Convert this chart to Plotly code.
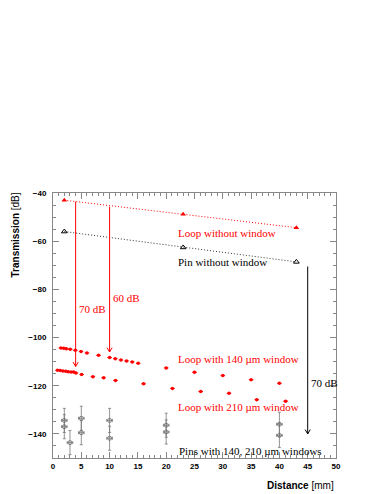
import plotly.graph_objects as go

# ---- data ----
nowin_x = [2, 23, 43]
loop_nowin_y = [-43, -48.8, -54.4]
pin_nowin_y = [-56, -62.6, -68.6]

loop140_x = [1.4, 1.9, 2.35, 3.05, 3.95, 4.95, 6.0, 8.05, 10.0, 11.0, 12.0, 13.0, 14.0, 15.05, 20.0, 25.0, 30.0, 35.0, 40.0]
loop140_y = [-104.3, -104.4, -104.6, -104.9, -105.3, -105.8, -106.4, -107.4, -108.3, -108.75, -109.3, -109.7, -110.1, -110.7, -112.6, -114.4, -115.8, -117.5, -119.0]

loop210_x = [0.8, 1.3, 1.75, 2.25, 2.7, 3.2, 3.65, 4.05, 5.05, 7.05, 8.95, 11.05, 16.0, 21.1, 26.1, 31.1, 36.0, 41.1]
loop210_y = [-113.6, -113.7, -113.9, -114.0, -114.2, -114.3, -114.3, -114.7, -115.3, -116.25, -116.7, -117.8, -119.2, -121.1, -122.4, -123.1, -125.8, -126.4]
loop_xerr = 0.4

pins_x = [2, 2, 3, 5, 5, 10, 10, 20, 20, 40, 40]
pins_y = [-134.4, -137.0, -143.6, -133.5, -139.5, -134.4, -141.8, -136.4, -139.2, -136.0, -140.6]
pins_xerr = 0.5
pins_yerr = 5.0

# arrows: x, y_start, y_end, colour
arrow_x = [4, 10, 45]
arrow_y0 = [-43.6, -45.7, -70.5]
arrow_y1 = [-112, -106, -140]
arrow_col = ["red", "red", "black"]

# labels
labels = [
    ("Loop without window", 21.7, -56.4, "red"),
    ("Pin without window", 21.7, -68.5, "black"),
    ("Loop with 140 µm window", 21.7, -108.75, "red"),
    ("Loop with 210 µm window", 21.7, -128.9, "red"),
    ("Pins with 140, 210 µm windows", 21.9, -147.0, "black"),
    ("70 dB", 4.3, -88.3, "red"),
    ("60 dB", 10.3, -83.5, "red"),
    ("70 dB", 45.3, -118.9, "black"),
]

fig = go.Figure()

fig.add_trace(go.Scatter(x=nowin_x, y=loop_nowin_y, mode="lines+markers",
                         line=dict(color="red", width=1, dash="1px,2px"),
                         marker=dict(symbol="triangle-up", size=5, color="red")))
fig.add_trace(go.Scatter(x=nowin_x, y=pin_nowin_y, mode="lines+markers",
                         line=dict(color="#333", width=1, dash="1px,2px"),
                         marker=dict(symbol="triangle-up-open", size=5, color="black",
                                     line=dict(width=1))))

for xs, ys in [(loop140_x, loop140_y), (loop210_x, loop210_y)]:
    fig.add_trace(go.Scatter(x=xs, y=ys, mode="markers",
                             marker=dict(symbol="circle", size=3.5, color="red"),
                             error_x=dict(type="constant", value=loop_xerr, color="red",
                                          thickness=1, width=0)))

fig.add_trace(go.Scatter(x=pins_x, y=pins_y, mode="markers",
                         marker=dict(symbol="circle-open", size=4, color="#666",
                                     line=dict(width=0.8)),
                         error_x=dict(type="constant", value=pins_xerr, color="#777",
                                      thickness=0.8, width=1.5),
                         error_y=dict(type="constant", value=pins_yerr, color="#777",
                                      thickness=0.8, width=1.5)))

hw, hh = 0.45, 1.8
for xa, y0, y1, c in zip(arrow_x, arrow_y0, arrow_y1, arrow_col):
    fig.add_trace(go.Scatter(
        x=[xa, xa, None, xa - hw, xa, xa + hw],
        y=[y0, y1, None, y1 + hh, y1, y1 + hh],
        mode="lines", line=dict(color=c, width=1)))

for txt, lx, ly, c in labels:
    fig.add_annotation(x=lx, y=ly, text=txt, showarrow=False, xanchor="left",
                       yanchor="middle", xref="x", yref="y",
                       font=dict(family="Liberation Serif", size=11, color=c))

fig.add_annotation(x=-0.134, y=0.84, xref="paper", yref="paper", showarrow=False,
                   text="<b>Transmission</b> [dB]", textangle=-90,
                   xanchor="center", yanchor="middle",
                   font=dict(family="Liberation Sans", size=10, color="black"))
fig.add_annotation(x=1.0, y=-0.102, xref="paper", yref="paper", showarrow=False,
                   text="<b>Distance</b> [mm]", xanchor="right", yanchor="middle",
                   font=dict(family="Liberation Sans", size=10, color="black"))

axis_common = dict(showline=True, linecolor="#888", linewidth=1, mirror="ticks",
                   ticks="inside", tickcolor="#888", ticklen=6, showgrid=False,
                   zeroline=False,
                   tickfont=dict(family="Liberation Sans", size=8, color="black",
                                 weight="bold"))

fig.update_xaxes(range=[0, 50], dtick=5, tick0=0,
                 minor=dict(dtick=1, ticks="inside", ticklen=3, tickcolor="#888"),
                 **axis_common)
fig.update_yaxes(range=[-150, -40], dtick=20, tick0=-40,
                 minor=dict(dtick=5, ticks="inside", ticklen=3, tickcolor="#888"),
                 ticklabelstandoff=4,
                 **axis_common)

# page body adds an 8px offset; shrink figure to compensate
fig.update_layout(width=374, height=486, showlegend=False,
                  margin=dict(l=45, r=46, t=185, b=36),
                  paper_bgcolor="white", plot_bgcolor="white")

fig.write_html("out.html")
